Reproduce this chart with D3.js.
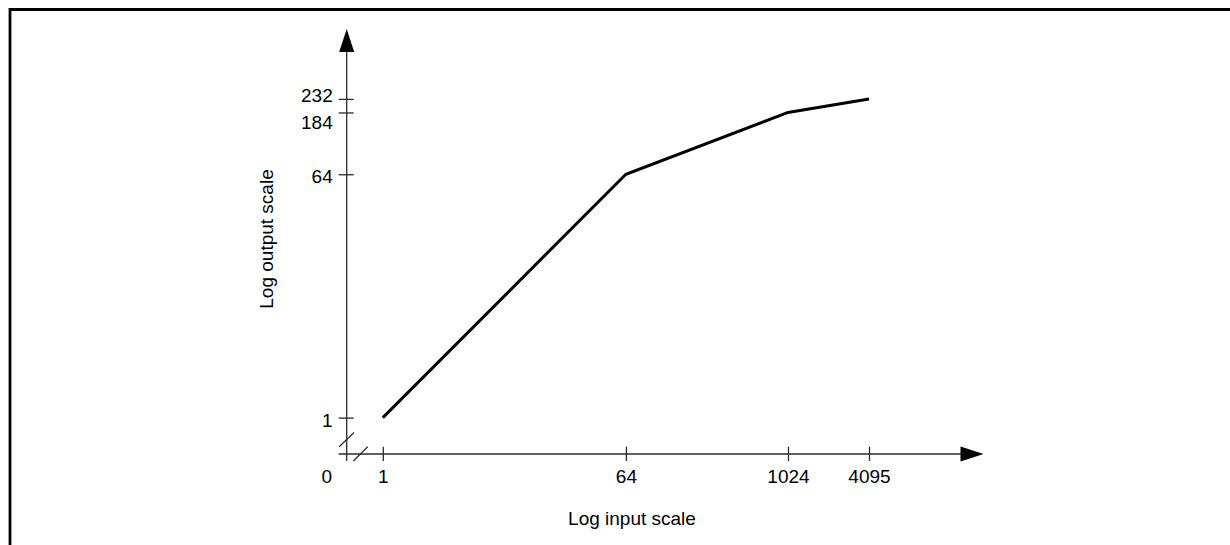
<!DOCTYPE html>
<html>
<head>
<meta charset="utf-8">
<script src="https://cdn.jsdelivr.net/npm/d3@7"></script>
<style>
	body { margin: 0; background: #fff; }
	text { font-family: Arial, "Liberation Sans", sans-serif; font-size: 19px; fill: #000; }
</style>
</head>
<body>
<div id="chart"></div>
<script>
	// data
	var inputTicks = [1, 64, 1024, 4095];
	var outputTicks = [1, 64, 184, 232];
	var curveInput = [1, 64, 1024, 4095];
	var curveOutput = [1, 64, 184, 232];
	var xTitle = 'Log input scale';
	var yTitle = 'Log output scale';

	var width = 1230, height = 545;
	var ox = 346.7, oy = 454; // where the broken axes meet ("0")

	var svg = d3.select('#chart').append('svg')
		.attr('width', width).attr('height', height);

	// frame, only top and left edges are visible
	svg.append('path')
		.attr('d', 'M10,' + height + ' V9.5 H' + width)
		.attr('fill', 'none').attr('stroke', '#000').attr('stroke-width', 2.8);

	var x = d3.scaleLog().base(2).domain([1, 4095]).range([382.8, 869]);
	var y = d3.scaleLog().base(2).domain([1, 232]).range([417.6, 98.9]);

	var axisColor = '#2a2a2a';

	// axis lines with arrow heads
	svg.append('line')
		.attr('x1', ox).attr('x2', ox).attr('y1', oy + 7).attr('y2', 50)
		.attr('stroke', axisColor).attr('stroke-width', 1.3);
	svg.append('path')
		.attr('d', 'M' + [ox, 29] + ' L' + [ox + 7.5, 52] + ' L' + [ox - 7.5, 52] + 'Z')
		.attr('fill', '#000');
	svg.append('line')
		.attr('x1', ox - 8).attr('x2', 962).attr('y1', oy).attr('y2', oy)
		.attr('stroke', axisColor).attr('stroke-width', 1.3);
	svg.append('path')
		.attr('d', 'M' + [983.5, oy] + ' L' + [960.5, oy - 7.5] + ' L' + [960.5, oy + 7.5] + 'Z')
		.attr('fill', '#000');

	// break marks
	var breaks = svg.append('g').attr('stroke', axisColor).attr('stroke-width', 1.2);
	breaks.append('line')
		.attr('x1', ox - 7.5).attr('y1', oy - 7.3).attr('x2', ox + 7.3).attr('y2', oy - 21.5);
	breaks.append('line')
		.attr('x1', ox + 6.6).attr('y1', oy + 7).attr('x2', ox + 21).attr('y2', oy - 7.3);

	// x axis ticks
	var gx = svg.append('g')
		.attr('transform', 'translate(0,' + oy + ')')
		.call(d3.axisBottom(x).tickValues(inputTicks).tickFormat(d3.format('d')).tickSize(0));
	gx.select('.domain').remove();
	gx.selectAll('.tick line')
		.attr('y1', -7.3).attr('y2', 7)
		.attr('stroke', axisColor).attr('stroke-width', 1.3);
	gx.selectAll('.tick text')
		.attr('y', 22).attr('dy', '0.35em')
		.attr('fill', null);

	// y axis ticks, 232 and 184 labels are pushed apart
	var labelNudge = { 232: -4.5, 184: 9 };
	var gy = svg.append('g')
		.attr('transform', 'translate(' + ox + ',0)')
		.call(d3.axisLeft(y).tickValues(outputTicks).tickFormat(d3.format('d')).tickSize(0));
	gy.select('.domain').remove();
	gy.selectAll('.tick line')
		.attr('x1', -8).attr('x2', 7)
		.attr('stroke', axisColor).attr('stroke-width', 1.3);
	gy.selectAll('.tick text')
		.attr('x', -14)
		.attr('dy', '0.35em')
		.attr('y', d => (labelNudge[d] !== undefined ? labelNudge[d] : 2))
		.attr('fill', null);
	gx.attr('font-size', null).attr('font-family', null);
	gy.attr('font-size', null).attr('font-family', null);

	// origin label
	svg.append('text')
		.attr('x', ox - 20).attr('y', oy + 22).attr('dy', '0.35em')
		.attr('text-anchor', 'middle')
		.text('0');

	// titles
	svg.append('text')
		.attr('x', 632).attr('y', 524.5)
		.attr('text-anchor', 'middle')
		.text(xTitle);
	svg.append('text')
		.attr('transform', 'translate(272.5,239) rotate(-90)')
		.attr('text-anchor', 'middle')
		.text(yTitle);

	// transfer curve
	var points = curveInput.map((d, i) => [d, curveOutput[i]]);
	svg.append('path')
		.datum(points)
		.attr('fill', 'none')
		.attr('stroke', '#000')
		.attr('stroke-width', 3)
		.attr('stroke-linejoin', 'miter')
		.attr('d', d3.line().x(d => x(d[0])).y(d => y(d[1])));
</script>
</body>
</html>
